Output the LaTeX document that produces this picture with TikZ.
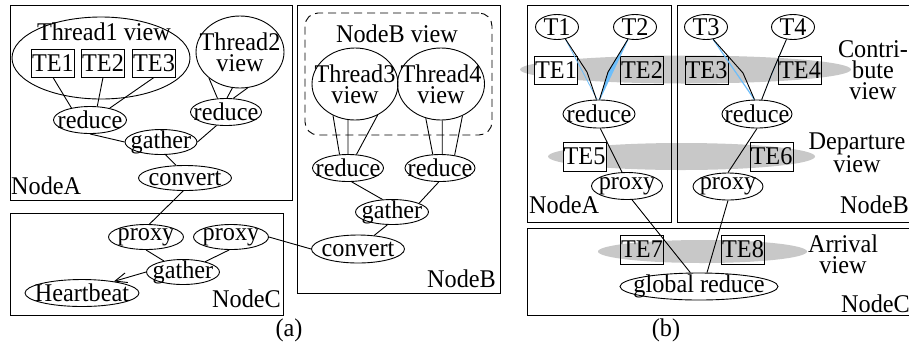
\documentclass[tikz,border=0pt]{standalone}
\usepackage{fontspec}
\setmainfont{Liberation Serif}[FakeStretch=0.95]
\usetikzlibrary{shapes.geometric,arrows.meta}
\definecolor{shade}{RGB}{200,200,200}
\definecolor{hl}{RGB}{110,190,250}
\begin{document}
\begin{tikzpicture}[x=1pt,y=-1pt,
  every node/.style={font=\fontsize{25.5}{21}\selectfont},
  ell/.style={draw, ellipse, inner sep=-22pt, align=center, line width=0.9pt},
  tebox/.style={draw, rectangle, inner sep=0pt, minimum width=43pt, minimum height=28pt, line width=0.9pt},
  panelbox/.style={draw, rectangle, inner sep=0pt, line width=1pt, anchor=north west},
  conn/.style={line width=0.9pt},
  lbl/.style={inner sep=0pt},
  shadeell/.style={fill=shade, ellipse, inner sep=0pt, draw=none},
  hlline/.style={draw=hl, line width=0.8pt}]
\useasboundingbox (0,0) rectangle (909,349);

% ---------------- panel (a) ----------------
\node[panelbox, minimum width=282pt, minimum height=195pt] (nA) at (10,5) {};
\node[panelbox, minimum width=203pt, minimum height=288pt] (nB) at (297,5) {};
\node[panelbox, minimum width=273pt, minimum height=102pt] (nC) at (10,213) {};
\node[lbl, anchor=base west] (lA) at (11,194) {NodeA};
\node[lbl, anchor=base east] (lB) at (496,287) {NodeB};
\node[lbl, anchor=base east] (lC) at (281,307) {NodeC};

\node[ell, minimum width=178pt, minimum height=82pt] (th1) at (101,58) {};
\node[lbl, anchor=base] (th1t) at (104,40) {Thread1 view};
\node[tebox] (te1) at (53,63) {TE1};
\node[tebox] (te2) at (103,63) {TE2};
\node[tebox] (te3) at (154,63) {TE3};
\node[ell, minimum width=88pt, minimum height=72pt] (th2) at (240,52) {Thread2\\view};
\node[ell, minimum width=73pt, minimum height=27pt] (red1) at (90,120) {reduce};
\node[ell, minimum width=71pt, minimum height=27pt] (red2) at (226,112) {reduce};
\node[ell, minimum width=72pt, minimum height=25pt] (gA) at (161,142) {gather};
\node[ell, minimum width=93pt, minimum height=25pt] (convA) at (185,178) {convert};

\node[draw, dashed, dash pattern=on 8pt off 5pt, rounded corners=13pt, line width=0.9pt,
      minimum width=187pt, minimum height=122pt, inner sep=0pt] (nbv) at (398.5,74) {};
\node[lbl, anchor=base] (nbvt) at (397,42) {NodeB view};
\node[ell, minimum width=86pt, minimum height=72pt] (th3) at (355,84) {Thread3\\view};
\node[ell, minimum width=87pt, minimum height=72pt] (th4) at (441,84) {Thread4\\view};
\node[ell, minimum width=71pt, minimum height=27pt] (red3) at (348,168) {reduce};
\node[ell, minimum width=70pt, minimum height=27pt] (red4) at (440,168) {reduce};
\node[ell, minimum width=73pt, minimum height=25pt] (gB) at (392,212) {gather};
\node[ell, minimum width=93pt, minimum height=28pt] (convB) at (358,249) {convert};

\node[ell, minimum width=75pt, minimum height=25pt] (px1) at (146,237) {proxy};
\node[ell, minimum width=75pt, minimum height=25pt] (px2) at (231,237) {proxy};
\node[ell, minimum width=73pt, minimum height=25pt] (gC) at (183,272) {gather};
\node[ell, minimum width=114pt, minimum height=27pt] (hb) at (82,293) {Heartbeat};

\draw[conn] (te1.south) -- (red1.147);
\draw[conn] (te2.south) -- (red1.62);
\draw[conn] (te3.south) -- (red1.31);
\draw[conn] (th2.220) -- (red2.122);
\draw[conn] (th2.258) -- (red2.86);
\draw[conn] (th2.282) -- (red2.62);
\draw[conn] (red1.south) -- (gA.west);
\draw[conn] (gA.east) -- (red2.235);
\draw[conn] (gA.290) -- (convA.125);
\draw[conn] (convA.262) -- (px1.75);
\draw[conn] (th3.235) -- (red3.122);
\draw[conn] (th3.259) -- (red3.90);
\draw[conn] (th3.306) -- (red3.58);
\draw[conn] (th4.246) -- (red4.118);
\draw[conn] (th4.272) -- (red4.81);
\draw[conn] (th4.304) -- (red4.41);
\draw[conn] (red3.285) -- (gB.127);
\draw[conn] (red4.265) -- (gB.18);
\draw[conn] (gB.250) -- (convB.40);
\draw[conn] (px2.east) -- (convB.west);
\draw[conn] (px1.south) -- (gC.150);
\draw[conn] (px2.262) -- (gC.25);
\draw[conn, -{Straight Barb[length=12pt,width=10pt]}] (gC.west) -- (hb.20);

\node[lbl, anchor=base] (capa) at (289,336) {(a)};

% ---------------- panel (b) ----------------
\node[shadeell, minimum width=331pt, minimum height=28pt] (sh1) at (685.5,69.5) {};
\node[shadeell, minimum width=267pt, minimum height=27pt] (sh2) at (681.5,156.5) {};
\node[shadeell, minimum width=209pt, minimum height=23pt] (sh3) at (702.5,251.5) {};

\node[panelbox, minimum width=144pt, minimum height=217pt] (bA) at (527,5) {};
\node[panelbox, minimum width=233pt, minimum height=217pt] (bB) at (677,5) {};
\node[panelbox, minimum width=383pt, minimum height=87pt] (bC) at (527,228) {};
\node[lbl, anchor=base west] (blA) at (529,213) {NodeA};
\node[lbl, anchor=base east] (blB) at (909,213) {NodeB};
\node[lbl, anchor=base east] (blC) at (910,312) {NodeC};

\node[lbl, align=center] (cv) at (873,70) {Contri-\\bute\\view};
\node[lbl, align=center] (dv) at (857,153) {Departure\\view};
\node[lbl, align=center] (av) at (843,254) {Arrival\\view};

\node[ell, minimum width=43pt, minimum height=25pt] (t1) at (557,27) {T1};
\node[ell, minimum width=43pt, minimum height=25pt] (t2) at (635,27) {T2};
\node[ell, minimum width=43pt, minimum height=25pt] (t3) at (706,27) {T3};
\node[ell, minimum width=43pt, minimum height=25pt] (t4) at (793,27) {T4};
\node[tebox, fill=white] (bte1) at (556,70) {TE1};
\node[tebox] (bte2) at (642,70) {TE2};
\node[tebox] (bte3) at (706.5,70) {TE3};
\node[tebox] (bte4) at (800,70) {TE4};
\node[tebox, fill=white, minimum height=29pt] (bte5) at (584.5,156.5) {TE5};
\node[tebox, minimum height=29pt] (bte6) at (771.5,156.5) {TE6};
\node[tebox, minimum height=29pt] (bte7) at (642,249.5) {TE7};
\node[tebox, minimum height=29pt] (bte8) at (743,249.5) {TE8};
\node[ell, minimum width=72pt, minimum height=28pt] (rb1) at (599,114) {reduce};
\node[ell, minimum width=70pt, minimum height=28pt] (rb2) at (757,114) {reduce};
\node[ell, minimum width=71pt, minimum height=27pt] (pb1) at (627,186) {proxy};
\node[ell, minimum width=70pt, minimum height=27pt] (pb2) at (728,186.5) {proxy};
\node[ell, minimum width=158pt, minimum height=27pt] (gr) at (699,286.5) {global reduce};

\coordinate (k1) at (587,72);
\coordinate (k2) at (608,72);
\coordinate (k3) at (743,73);
\coordinate (k4) at (772,73);

\draw[hlline] (t1.305) -- (rb1.97);
\fill[hl] (t2.240) -- (k2) -- (rb1.88) -- cycle;
\draw[hlline, line width=1.2pt] (t2.240) -- (rb1.88);
\draw[hlline, line width=1.2pt] (t3.300) -- (rb2.100);
\fill[hl] (t4.242) -- (k4) -- (rb2.72) -- cycle;

\draw[conn] (t1.305) -- (k1) -- (rb1.100);
\draw[conn] (t2.240) -- (k2) -- (rb1.88);
\draw[conn] (t3.300) -- (k3) -- (rb2.100);
\draw[conn] (t4.242) -- (k4) -- (rb2.72);
\draw[conn] (rb1.275) -- (pb1.110);
\draw[conn] (rb2.south) -- (pb2.north);
\draw[conn] (pb1.290) -- (gr.122);
\draw[conn] (pb2.south) -- (gr.60);

\node[lbl, anchor=base] (capb) at (666,336) {(b)};
\end{tikzpicture}
\end{document}
